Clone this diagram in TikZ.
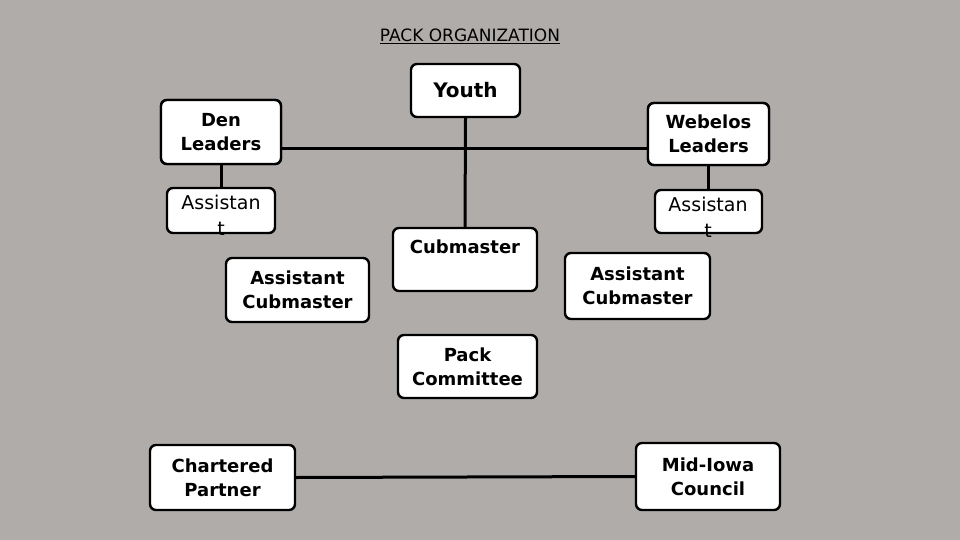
\documentclass[tikz,border=0pt]{standalone}
\usepackage{fontspec}
\setmainfont{DejaVu Sans}
\begin{document}
\begin{tikzpicture}[x=1pt,y=-1pt,
  box/.style={draw=black,line width=2.4pt,fill=white,rounded corners=6pt,inner sep=0pt,align=center},
  txt/.style={font=\fontsize{18}{24}\selectfont\bfseries,align=center,inner sep=0pt},
  rtxt/.style={font=\fontsize{19}{26}\selectfont,align=center,inner sep=0pt},
  ln/.style={line width=3pt}]
\fill[fill={rgb,255:red,176;green,172;blue,170}] (0,0) rectangle (960,540);
\useasboundingbox (0,0) rectangle (960,540);
\draw[ln] (221,149) coordinate (hl) -- (708,149) coordinate (hr);
\node[rtxt,font=\fontsize{17}{20}\selectfont] (title) at (470,36) {\underline{PACK ORGANIZATION}};
\node[box,minimum width=109pt,minimum height=53pt] (youth) at (465.5,90.5) {};
\node[txt,font=\fontsize{20}{24}\selectfont\bfseries] (youtht) at (youth) {Youth};
\node[box,minimum width=120pt,minimum height=64pt] (den) at (221,132) {};
\node[txt] (dent) at (den) {Den\\Leaders};
\node[box,minimum width=121pt,minimum height=62pt] (web) at (708.5,134) {};
\node[txt] (webt) at (web) {Webelos\\Leaders};
\node[box,minimum width=108pt,minimum height=45pt] (asl) at (221,210.5) {};
\node[rtxt,anchor=north] (aslt) at (221,195) {Assistan\\t};
\node[box,minimum width=107pt,minimum height=43pt] (asr) at (708.5,211.5) {};
\node[rtxt,anchor=north] (asrt) at (708,197) {Assistan\\t};
\node[box,minimum width=144pt,minimum height=63pt] (cub) at (465,259.5) {};
\node[txt,anchor=north] (cubt) at (465,240) {Cubmaster};
\node[box,minimum width=143pt,minimum height=64pt] (acl) at (297.5,290) {};
\node[txt] (aclt) at (acl) {Assistant\\Cubmaster};
\node[box,minimum width=145pt,minimum height=66pt] (acr) at (637.5,286) {};
\node[txt] (acrt) at (acr) {Assistant\\Cubmaster};
\node[box,minimum width=139pt,minimum height=63pt] (pack) at (467.5,366.5) {};
\node[txt] (packt) at (pack) {Pack\\Committee};
\node[box,minimum width=145pt,minimum height=65pt] (char) at (222.5,477.5) {};
\node[txt] (chart) at (char) {Chartered\\Partner};
\node[box,minimum width=144pt,minimum height=67pt] (mid) at (708,476.5) {};
\node[txt] (midt) at (mid) {Mid-Iowa\\Council};
\draw[ln] (youth.south) -- (cub.north);
\draw[ln] (den.south) -- (asl.north);
\draw[ln] (web.south) -- (asr.north);
\draw[ln] (char.east) -- (mid.west);
\node[box,minimum width=120pt,minimum height=64pt] at (den) {};
\node[txt] at (den) {Den\\Leaders};
\node[box,minimum width=121pt,minimum height=62pt] at (web) {};
\node[txt] at (web) {Webelos\\Leaders};
\end{tikzpicture}
\end{document}
